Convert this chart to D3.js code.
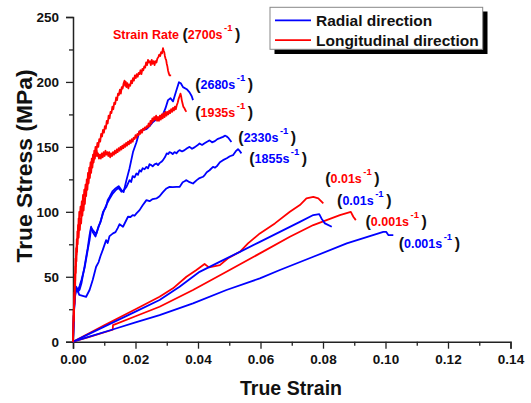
<!DOCTYPE html>
<html>
<head>
<meta charset="utf-8">
<script src="https://cdn.jsdelivr.net/npm/d3@7"></script>
<style>
  html, body { margin: 0; padding: 0; background: #fff; }
  svg { display: block; font-family: "Liberation Sans", Arial, sans-serif; }
</style>
</head>
<body>
<svg id="chart" width="531" height="403"></svg>
<script>
// ---------------- DATA ----------------
const xTicks = [0.00, 0.02, 0.04, 0.06, 0.08, 0.10, 0.12, 0.14];
const yTicks = [0, 50, 100, 150, 200, 250];
const xTitle = "True Strain";
const yTitle = "True Stress (MPa)";
const legendLabels = ["Radial direction", "Longitudinal direction"];

// Longitudinal (red) curves
const long2700 = [[0,0],[0.0001,12],[0.0002,25],[0.0003,20],[0.0004,38],[0.0005,33],[0.0006,52],[0.0007,47],[0.0008,64],[0.0009,58],[0.001,72],[0.0011,67],[0.0012,79],[0.0013,74],[0.0014,85],[0.0015,80],[0.0016,90],[0.0017,86],[0.0018,95],[0.0019,90],[0.002,100],[0.0022,96],[0.0024,104],[0.0026,99],[0.0028,108],[0.003,104],[0.0032,113],[0.0034,108],[0.0036,117],[0.0038,113],[0.004,121],[0.0042,116],[0.0044,125],[0.0046,121],[0.0048,130],[0.005,126],[0.0052,134],[0.0054,130],[0.0056,138],[0.0058,134],[0.006,141],[0.0062,137],[0.0064,144],[0.0066,140],[0.0068,147],[0.007,144],[0.0072,150],[0.0075,147],[0.0078,153],[0.0081,150],[0.0084,156],[0.0087,154],[0.009,160],[0.0093,158],[0.0096,163],[0.0099,161],[0.0102,166],[0.0105,164],[0.0108,170],[0.0111,168],[0.0114,174],[0.0117,172],[0.012,177],[0.0123,176],[0.0126,181],[0.0129,179],[0.0132,184],[0.0135,183],[0.0138,188],[0.0141,186],[0.0144,191],[0.0147,190],[0.015,194],[0.0153,191],[0.0156,196],[0.0159,195],[0.0162,199],[0.0165,201],[0.0167,197],[0.0169,200],[0.0171,196],[0.0174,199],[0.0177,195],[0.018,198],[0.0183,197],[0.0186,201],[0.0189,199],[0.0192,203],[0.0195,201],[0.0198,205],[0.0201,203],[0.0204,206],[0.0207,204],[0.021,207],[0.0213,206],[0.0216,209],[0.0219,206],[0.0222,210],[0.0225,209],[0.0228,212],[0.0231,211],[0.0234,215],[0.0237,213],[0.024,217],[0.0243,215],[0.0246,216],[0.0249,213],[0.0252,217],[0.0255,214],[0.0258,216],[0.0261,213],[0.0264,216],[0.0267,215],[0.027,218],[0.0273,219],[0.0276,221],[0.0279,220],[0.0282,223],[0.0285,222],[0.0288,226],[0.029,224],[0.0292,223],[0.0294,220],[0.0296,218],[0.0298,217],[0.03,214],[0.0302,212],[0.0304,209],[0.0306,207],[0.0309,205],[0.0314,205]];
const long1935 = [[0,0],[0.0001,10],[0.0002,20],[0.0003,16],[0.0004,33],[0.0005,29],[0.0006,47],[0.0007,43],[0.0008,58],[0.0009,53],[0.001,66],[0.0011,62],[0.0012,73],[0.0013,69],[0.0014,79],[0.0015,75],[0.0016,84],[0.0018,80],[0.002,90],[0.0022,86],[0.0024,95],[0.0026,91],[0.0028,100],[0.003,97],[0.0032,105],[0.0034,101],[0.0036,110],[0.0038,106],[0.004,115],[0.0042,112],[0.0044,120],[0.0046,117],[0.0048,125],[0.005,122],[0.0052,129],[0.0054,126],[0.0056,133],[0.0058,130],[0.006,137],[0.0062,134],[0.0064,140],[0.0066,138],[0.0068,143],[0.007,141],[0.0072,146],[0.0074,143],[0.0076,147],[0.0078,143],[0.008,145],[0.0083,141],[0.0086,144],[0.0089,141],[0.0092,145],[0.0095,142],[0.0098,146],[0.0101,143],[0.0104,147],[0.0107,144],[0.011,146],[0.0113,143],[0.0116,146],[0.0119,142],[0.0122,145],[0.0125,143],[0.0128,146],[0.0131,144],[0.0134,147],[0.0137,145],[0.014,148],[0.0143,146],[0.0146,149],[0.0149,147],[0.0152,150],[0.0155,148],[0.0158,151],[0.0161,149],[0.0164,152],[0.0167,150],[0.017,153],[0.0173,151],[0.0176,154],[0.0179,152],[0.0182,155],[0.0185,153],[0.0188,156],[0.0191,154],[0.0194,157],[0.0197,156],[0.02,159],[0.0203,157],[0.0206,160],[0.0209,159],[0.0212,162],[0.0215,160],[0.0218,163],[0.0221,161],[0.0224,164],[0.0227,163],[0.023,165],[0.0233,164],[0.0236,166],[0.0239,165],[0.0242,168],[0.0245,166],[0.0248,170],[0.0251,168],[0.0254,172],[0.0257,170],[0.026,173],[0.0263,171],[0.0266,174],[0.0269,170],[0.0272,173],[0.0275,170],[0.0278,174],[0.0281,171],[0.0284,175],[0.0287,172],[0.029,176],[0.0293,173],[0.0296,177],[0.0299,174],[0.0302,177],[0.0305,175],[0.0308,178],[0.0311,176],[0.0314,179],[0.0317,177],[0.032,180],[0.0323,178],[0.0326,181],[0.0329,179],[0.0332,182],[0.0335,184],[0.0338,187],[0.0341,189],[0.0344,191],[0.0346,189],[0.0348,186],[0.035,184],[0.0353,181],[0.0356,180],[0.036,178],[0.0363,177]];
const long001 = [[0,0],[0.005,6.3],[0.01,12.6],[0.015,18.8],[0.02,25],[0.0277,34.6],[0.032,41.1],[0.0363,50],[0.0395,55.2],[0.0421,59.8],[0.0435,57.2],[0.047,59],[0.0496,64.2],[0.0534,69.2],[0.056,75.7],[0.0598,83.4],[0.0646,91.1],[0.0694,100],[0.0726,105.2],[0.0747,110.3],[0.0769,111.5],[0.0785,110.3],[0.0801,106.5]];
const long0001 = [[0,0],[0.005,3.6],[0.0127,9.2],[0.0128,12.8],[0.02,19.6],[0.0277,26.9],[0.0384,39.8],[0.0491,53.8],[0.0598,68],[0.0694,80.8],[0.0769,89.8],[0.0854,97.5],[0.0889,100],[0.0897,96.2],[0.0905,93.6]];

// Radial (blue) curves
const rad2680 = [[0,0],[0.0003,24],[0.0006,36],[0.001,42.3],[0.0016,39.8],[0.0021,42.8],[0.0027,47.5],[0.0037,56.7],[0.0047,70.5],[0.0053,78.2],[0.0058,87.5],[0.0066,85.2],[0.0074,82.8],[0.0082,89],[0.0088,92],[0.0096,99.8],[0.0106,103.8],[0.0111,109],[0.0117,111.5],[0.0127,116],[0.0136,118],[0.0146,119.8],[0.0155,116.7],[0.0162,115.2],[0.0171,124.4],[0.0181,133.6],[0.0192,146],[0.0203,153.6],[0.0213,162],[0.0223,162.8],[0.0235,163.6],[0.0245,166],[0.0255,169],[0.0267,171.3],[0.0277,173],[0.0288,175],[0.0296,179.8],[0.0304,186],[0.0312,187.5],[0.032,185],[0.0329,192],[0.0339,199.8],[0.0345,199],[0.0352,196],[0.0364,194.4],[0.0373,192],[0.038,189],[0.0384,186]];
const rad2330 = [[0,0],[0.0003,23],[0.0006,35],[0.001,41],[0.0016,38.5],[0.0021,40],[0.0027,45],[0.0037,58],[0.0047,72],[0.0053,82],[0.0058,88.5],[0.0064,84],[0.0072,81],[0.008,87],[0.009,94],[0.0099,101],[0.0108,106],[0.0117,110],[0.0127,114],[0.0136,116.5],[0.0146,118.5],[0.0155,115.5],[0.0162,116.5],[0.0171,119.2],[0.0181,124.4],[0.0186,123],[0.0191,127.5],[0.0197,126.5],[0.0203,129.5],[0.0208,128.5],[0.0213,132],[0.0218,131],[0.0223,133.6],[0.0229,132.8],[0.0235,134.6],[0.024,133.5],[0.0245,136.7],[0.025,136],[0.0255,135],[0.0261,136.5],[0.0267,137.2],[0.0272,136],[0.0277,137.5],[0.0283,138.5],[0.0288,139.8],[0.0294,142],[0.03,145],[0.0305,144.5],[0.0309,146],[0.0314,145.5],[0.0319,144.4],[0.0325,146],[0.0331,145],[0.0336,146.5],[0.0341,147.5],[0.0349,146.5],[0.0357,147.5],[0.0365,149],[0.0373,150],[0.0381,148.5],[0.039,149.8],[0.0397,151],[0.0405,152.6],[0.0413,151.5],[0.0421,152.8],[0.0429,154],[0.0437,155],[0.0445,153.5],[0.0454,154.4],[0.0462,156],[0.047,156.7],[0.048,157.7],[0.0486,158.6],[0.0491,158.2],[0.0498,156.7],[0.0507,153.8]];
const rad1855 = [[0,0],[0.0003,22],[0.0006,34],[0.001,40],[0.0016,38.5],[0.002,36],[0.0042,34.6],[0.0053,39.8],[0.0063,47.5],[0.0074,57.7],[0.0082,61.3],[0.0088,66],[0.0095,70.5],[0.0106,78.2],[0.0111,76],[0.0117,81.3],[0.0128,83.4],[0.0136,84.4],[0.0143,87.5],[0.0149,90.5],[0.016,88.5],[0.0176,96.2],[0.0184,96],[0.0191,97.5],[0.0197,97],[0.0203,98.8],[0.0213,101.3],[0.0223,105],[0.0235,109],[0.0245,108.2],[0.0255,109.8],[0.0267,110.3],[0.0277,112],[0.0287,115],[0.0299,118],[0.0309,119.2],[0.0319,119],[0.0331,119.2],[0.0341,119.2],[0.0351,122.8],[0.0357,123.5],[0.0363,124.4],[0.0373,122.8],[0.0384,121.8],[0.0396,124.4],[0.0405,126],[0.0416,127],[0.0422,128.5],[0.0428,130.5],[0.0437,132],[0.0448,134.6],[0.0454,134],[0.046,135],[0.047,138.2],[0.048,139.8],[0.0492,141.3],[0.0502,142.8],[0.0512,143.6],[0.0521,146.7],[0.0528,148.2],[0.0534,146.7],[0.0539,145]];
const rad001 = [[0,0],[0.005,5.8],[0.01,11.6],[0.02,23.2],[0.0277,32.1],[0.0341,42.3],[0.0405,53.8],[0.0469,61.5],[0.0534,69.2],[0.0598,76.9],[0.0662,84.6],[0.0726,92.3],[0.0769,97.5],[0.0788,98.2],[0.0795,94.9],[0.0806,91.1],[0.0828,88.5]];
const rad0001 = [[0,0],[0.005,3.7],[0.0127,9.4],[0.02,14.8],[0.0277,20.5],[0.0384,29.5],[0.0491,39.8],[0.0598,48.8],[0.0662,55.2],[0.0769,65.4],[0.0876,75.7],[0.0993,84.6],[0.1002,84.6],[0.1009,82.1],[0.1025,82.1]];

// Strain-rate annotations: [prefix, rate, colour group, anchor strain, anchor stress]
const rateLabels = [
  ["Strain Rate ", "2700s", "long", 0.0128, 233.4],
  ["", "2680s", "rad", 0.0391, 194.3],
  ["", "1935s", "long", 0.0391, 172.7],
  ["", "2330s", "rad", 0.0529, 153.9],
  ["", "1855s", "rad", 0.0564, 137.9],
  ["", "0.01s", "long", 0.0807, 122.5],
  ["", "0.01s", "rad", 0.0845, 105.5],
  ["", "0.001s", "long", 0.0936, 89.0],
  ["", "0.001s", "rad", 0.1042, 72.3]
];

// ---------------- CHART ----------------
const colors = { rad: "#0000ff", long: "#ff0000" };
const series = [
  { data: long0001, group: "long" },
  { data: rad0001, group: "rad" },
  { data: long001, group: "long" },
  { data: rad001, group: "rad" },
  { data: rad1855, group: "rad" },
  { data: rad2330, group: "rad" },
  { data: rad2680, group: "rad" },
  { data: long1935, group: "long" },
  { data: long2700, group: "long" }
];

const svg = d3.select("#chart");
const x = d3.scaleLinear().domain([0, 0.14]).range([73, 510.5]);
const y = d3.scaleLinear().domain([0, 250]).range([341.7, 17]);

const axisColor = "#222";

// minor ticks
const gxMinor = svg.append("g").attr("transform", "translate(0,341.7)")
  .call(d3.axisBottom(x).tickValues(d3.range(0.01, 0.14, 0.02)).tickSize(4).tickFormat(""));
const gyMinor = svg.append("g").attr("transform", "translate(73,0)")
  .call(d3.axisLeft(y).tickValues([25, 75, 125, 175, 225]).tickSize(4).tickFormat(""));

const gx = svg.append("g").attr("transform", "translate(0,341.7)")
  .call(d3.axisBottom(x).tickValues(xTicks).tickSize(7).tickPadding(6).tickFormat(d3.format(".2f")));
const gy = svg.append("g").attr("transform", "translate(73,0)")
  .call(d3.axisLeft(y).tickValues(yTicks).tickSize(7).tickPadding(7).tickFormat(d3.format("d")));

[gx, gy, gxMinor, gyMinor].forEach(g => {
  g.selectAll("path").attr("stroke", axisColor).attr("stroke-width", 1.5);
  g.selectAll("line").attr("stroke", axisColor).attr("stroke-width", 1.3);
  g.selectAll("text").attr("fill", "#111").style("font-family", "'Liberation Sans', Arial, sans-serif")
    .style("font-size", "13.5px").style("font-weight", "bold");
});
gxMinor.select("path").remove();
gyMinor.select("path").remove();

// titles
svg.append("text").attr("x", 291).attr("y", 395).attr("text-anchor", "middle")
  .attr("font-size", 20).attr("font-weight", "bold").attr("fill", "#111")
  .attr("textLength", 102).attr("lengthAdjust", "spacingAndGlyphs").text(xTitle);
svg.append("text").attr("transform", "translate(32,166) rotate(-90)").attr("text-anchor", "middle")
  .attr("font-size", 22).attr("font-weight", "bold").attr("fill", "#111")
  .attr("textLength", 193).attr("lengthAdjust", "spacingAndGlyphs").text(yTitle);

// curves
const line = d3.line().x(d => x(d[0])).y(d => y(d[1]));
svg.append("g").selectAll("path").data(series).join("path")
  .attr("d", d => line(d.data))
  .attr("fill", "none")
  .attr("stroke", d => colors[d.group])
  .attr("stroke-width", 1.8)
  .attr("stroke-linejoin", "round");

// annotations
const ann = svg.append("g");
rateLabels.forEach(([prefix, rate, group, sx, sy]) => {
  const t = ann.append("text").attr("x", x(sx)).attr("y", y(sy))
    .attr("font-weight", "bold").attr("font-size", 12.5);
  if (prefix) t.append("tspan").attr("fill", colors[group]).text(prefix);
  t.append("tspan").attr("fill", "#111").attr("font-size", 16).attr("dy", 1).text("(");
  t.append("tspan").attr("fill", colors[group]).attr("dy", -1).text(rate);
  t.append("tspan").attr("fill", colors[group]).attr("font-size", 9.5).attr("dx", 1.5).attr("dy", -8).text("-1");
  t.append("tspan").attr("fill", "#111").attr("font-size", 16).attr("dx", 2.5).attr("dy", 9).text(")");
});

// legend
const lg = svg.append("g");
lg.append("rect").attr("x", 274.5).attr("y", 11.5).attr("width", 213).attr("height", 42.5).attr("fill", "#000");
lg.append("rect").attr("x", 270).attr("y", 7.3).attr("width", 212.7).attr("height", 42).attr("fill", "#fff")
  .attr("stroke", "#888").attr("stroke-width", 1);
legendLabels.forEach((lab, i) => {
  const yy = 20.3 + i * 19.8;
  lg.append("line").attr("x1", 275).attr("x2", 311).attr("y1", yy).attr("y2", yy)
    .attr("stroke", i === 0 ? colors.rad : colors.long).attr("stroke-width", 1.8);
  lg.append("text").attr("x", 316).attr("y", yy + 5.6).attr("font-size", 15.5).attr("font-weight", "bold")
    .attr("fill", "#111").text(lab);
});
</script>
</body>
</html>
